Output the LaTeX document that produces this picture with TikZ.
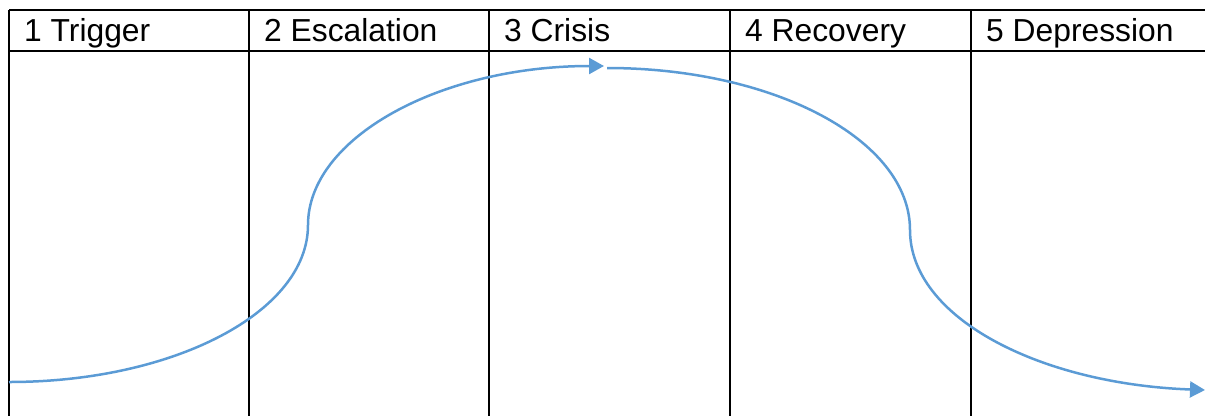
\documentclass[tikz,border=0pt]{standalone}
\usepackage{fontspec}
\setmainfont{Liberation Sans}
\usetikzlibrary{arrows.meta}
\definecolor{curveblue}{HTML}{5B9BD5}
\tikzset{
  grid/.style={line width=2pt, black},
  head/.style={anchor=base west, inner sep=0pt, font=\fontsize{31.8}{36}\selectfont},
  flow/.style={line width=2.5pt, curveblue, -{Triangle[length=15pt,width=16pt]}}
}
\begin{document}
\begin{tikzpicture}[x=1pt,y=-1pt]
\useasboundingbox (0,0) rectangle (1205,416);
% table lines
\draw[grid] (9,10) -- (1205,10);
\draw[grid] (9,51) -- (1205,51);
\foreach \xx in {9,249,489,730,971}{\draw[grid] (\xx,10) -- (\xx,416);}
% headers
\node[head] (h1) at (24,41) {1 Trigger};
\node[head] (h2) at (264,41) {2 Escalation};
\node[head] (h3) at (504,41) {3 Crisis};
\node[head] (h4) at (745,41) {4 Recovery};
\node[head] (h5) at (986,41) {5 Depression};
% curve
\coordinate (s) at (9,382);
\coordinate (i1) at (308,225);
\coordinate (t1) at (604,66);
\coordinate (s2) at (607,68);
\coordinate (i2) at (910,230);
\coordinate (t2) at (1205,390);
\draw[flow] (s) .. controls (174,382) and (308,312) .. (i1)
  .. controls (308,138) and (440,66) .. (t1);
\draw[flow] (s2) .. controls (774,68) and (910,140) .. (i2)
  .. controls (910,318) and (1040,384) .. (t2);
\end{tikzpicture}
\end{document}
